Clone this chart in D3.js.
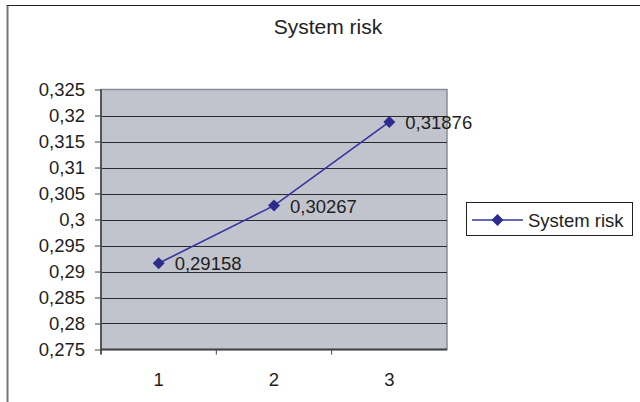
<!DOCTYPE html>
<html>
<head>
<meta charset="utf-8">
<script src="https://cdn.jsdelivr.net/npm/d3@7/dist/d3.min.js"></script>
<style>
  html, body { margin: 0; padding: 0; background: #fff; }
  svg { display: block; font-family: "Liberation Sans", Arial, sans-serif; }
</style>
</head>
<body>
<svg id="chart" width="640" height="402"></svg>
<script>
// Chart data
const categories = ["1", "2", "3"];
const riskValues = [0.29158, 0.30267, 0.31876];
const yTicks = [0.275, 0.28, 0.285, 0.29, 0.295, 0.3, 0.305, 0.31, 0.315, 0.32, 0.325];
const seriesName = "System risk";
const chartTitle = "System risk";

const svg = d3.select("#chart");
const fmt = v => String(+v.toFixed(5)).replace(".", ",");

// Plot area
const plot = { left: 101, right: 447, top: 89.5, bottom: 349.5 };

const x = d3.scaleBand().domain(categories).range([plot.left, plot.right]).padding(0);
const y = d3.scaleLinear().domain([0.275, 0.325]).range([plot.bottom, plot.top]);

// Outer frame (chart area border)
svg.append("line").attr("x1", 7.5).attr("x2", 7.5).attr("y1", 5).attr("y2", 402)
  .attr("stroke", "#777").attr("stroke-width", 2);
svg.append("line").attr("x1", 7).attr("x2", 640).attr("y1", 5.5).attr("y2", 5.5)
  .attr("stroke", "#222").attr("stroke-width", 1.2);

// Title
svg.append("text").attr("x", 328).attr("y", 34).attr("text-anchor", "middle")
  .attr("font-size", 21).attr("fill", "#1e1e1e").text(chartTitle);

// Plot background
svg.append("rect")
  .attr("x", plot.left).attr("y", plot.top)
  .attr("width", plot.right - plot.left).attr("height", plot.bottom - plot.top)
  .attr("fill", "#c1c4cc").attr("stroke", "#8a8d93").attr("stroke-width", 1.5);

// Horizontal gridlines
svg.append("g").selectAll("line").data(yTicks.slice(1, -1)).join("line")
  .attr("x1", plot.left).attr("x2", plot.right)
  .attr("y1", d => Math.round(y(d)) + 0.5).attr("y2", d => Math.round(y(d)) + 0.5)
  .attr("stroke", "#2a2a2a").attr("stroke-width", 1);

// Y axis
const yAxis = svg.append("g").attr("transform", `translate(${plot.left},0)`)
  .call(d3.axisLeft(y).tickValues(yTicks).tickSize(6).tickPadding(10).tickFormat(fmt));
yAxis.select(".domain").attr("stroke", "#555").attr("stroke-width", 2)
  .attr("d", `M0,${plot.top}V${plot.bottom + 5}`);
yAxis.selectAll(".tick line").attr("stroke", "#444");
yAxis.selectAll(".tick text").attr("font-size", 18.5).attr("fill", "#1e1e1e")
  .attr("font-family", "'Liberation Sans', Arial, sans-serif").attr("dy", "0.35em");

// X axis
const xAxis = svg.append("g").attr("transform", `translate(0,${plot.bottom})`)
  .call(d3.axisBottom(x).tickSize(0).tickPadding(0));
xAxis.select(".domain").attr("stroke", "#444").attr("stroke-width", 2)
  .attr("d", `M${plot.left},0H${plot.right}`);
xAxis.selectAll(".tick text").attr("font-size", 18.5).attr("fill", "#1e1e1e")
  .attr("font-family", "'Liberation Sans', Arial, sans-serif")
  .attr("dy", 0).attr("y", 36.5);
// Category separator ticks
svg.append("g").selectAll("line").data(categories.slice(1)).join("line")
  .attr("x1", d => x(d)).attr("x2", d => x(d))
  .attr("y1", plot.bottom).attr("y2", plot.bottom + 5)
  .attr("stroke", "#444").attr("stroke-width", 1);

// Series line
const cx = (d, i) => x(categories[i]) + x.bandwidth() / 2;
const line = d3.line().x((d, i) => cx(d, i)).y(d => y(d));
svg.append("path").datum(riskValues).attr("d", line)
  .attr("fill", "none").attr("stroke", "#3434a2").attr("stroke-width", 1.6);

// Diamond markers (squares turned 45°)
const marker = d3.symbol().type(d3.symbolSquare).size(72);
svg.append("g").selectAll("path").data(riskValues).join("path")
  .attr("d", marker)
  .attr("transform", (d, i) => `translate(${cx(d, i)},${y(d)}) rotate(45)`)
  .attr("fill", "#2c2c8e");

// Data labels
svg.append("g").selectAll("text").data(riskValues).join("text")
  .attr("x", (d, i) => cx(d, i) + 16).attr("y", d => y(d) + 7)
  .attr("font-size", 18.5).attr("fill", "#1e1e1e").text(d => fmt(d));

// Legend
const lg = svg.append("g");
lg.append("rect").attr("x", 466.5).attr("y", 202.5).attr("width", 166).attr("height", 33)
  .attr("fill", "#fff").attr("stroke", "#222").attr("stroke-width", 1);
lg.append("line").attr("x1", 472).attr("x2", 523).attr("y1", 220).attr("y2", 220)
  .attr("stroke", "#3434a2").attr("stroke-width", 1.6);
lg.append("path").attr("d", marker)
  .attr("transform", "translate(497.5,220) rotate(45)").attr("fill", "#2c2c8e");
lg.append("text").attr("x", 528).attr("y", 227).attr("font-size", 18.5)
  .attr("fill", "#1e1e1e").text(seriesName);
</script>
</body>
</html>
